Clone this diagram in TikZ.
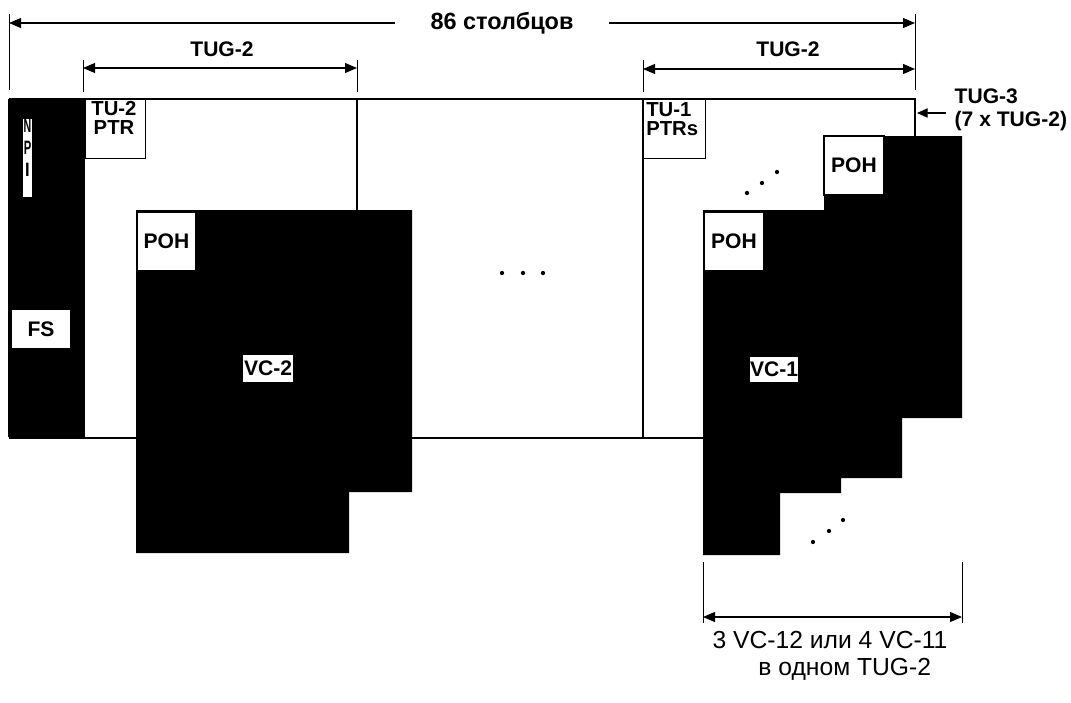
\documentclass[tikz,border=0pt]{standalone}
\usepackage{fontspec}
\setmainfont{Liberation Sans}
\usetikzlibrary{arrows.meta}
\newcommand{\labfont}{\fontsize{15.8}{13}\selectfont\bfseries}
\tikzset{
  wbox/.style={draw, fill=white, line width=0.9pt, inner sep=0pt, font=\labfont},
  frame/.style={line width=1pt},
  tick/.style={line width=0.7pt},
  dimarrow/.style={{Triangle[length=9pt,width=7.5pt]}-{Triangle[length=9pt,width=7.5pt]}, line width=0.8pt},
  onearrow/.style={-{Triangle[length=8pt,width=7pt]}, line width=0.8pt},
  dotmark/.style={fill=black, circle, inner sep=0pt, minimum size=3.2pt},
  npiletter/.style={font=\fontsize{14.5}{14}\selectfont\bfseries, inner sep=0pt, text height=10.4pt, text depth=0pt},
  twoline/.style={font=\fontsize{15.2}{14.2}\selectfont\bfseries, inner sep=0pt},
}
\begin{document}
\begin{tikzpicture}[x=0.75pt,y=-0.75pt]
\useasboundingbox (0,0) rectangle (1071,703);
% coordinates
\coordinate (tl) at (9,99);
\coordinate (tr) at (915,99);
\coordinate (rA) at (915,136);
\coordinate (bl) at (9,438);
\coordinate (bA) at (703,438);
\coordinate (v1t) at (357,99);
\coordinate (v1b) at (357,210);
\coordinate (v2t) at (643,99);
\coordinate (v2b) at (643,438);
% frame lines
\draw[frame] (tl) -- (tr) -- (rA);
\draw[frame] (bl) -- (bA);
\draw[frame] (v1t) -- (v1b);
\draw[frame] (v2t) -- (v2b);
% dimension ticks
\coordinate (t86l) at (9,14);   \coordinate (t86lb) at (9,90);
\coordinate (t86r) at (915,14); \coordinate (t86rb) at (915,90);
\draw[tick] (t86l) -- (t86lb);
\draw[tick] (t86r) -- (t86rb);
\coordinate (tga) at (83,60);  \coordinate (tgab) at (83,92);
\coordinate (tgb) at (357,60); \coordinate (tgbb) at (357,92);
\coordinate (tgc) at (643,60); \coordinate (tgcb) at (643,92);
\draw[tick] (tga) -- (tgab);
\draw[tick] (tgb) -- (tgbb);
\draw[tick] (tgc) -- (tgcb);
\coordinate (bta) at (703,562); \coordinate (btab) at (703,623);
\coordinate (btb) at (962,562); \coordinate (btbb) at (962,623);
\draw[tick] (bta) -- (btab);
\draw[tick] (btb) -- (btbb);
% dimension arrows
\coordinate (a86l) at (9,23); \coordinate (a86r) at (915,23);
\draw[dimarrow] (a86l) -- (a86r);
\node[fill=white, minimum width=161pt, minimum height=20pt, inner sep=0pt, font=\fontsize{17.6}{20}\selectfont\bfseries] (cols) at (502,23) {86 столбцов};
\coordinate (g1l) at (83,68); \coordinate (g1r) at (357,68);
\draw[dimarrow] (g1l) -- (g1r);
\node[font=\fontsize{15.8}{18}\selectfont\bfseries] (tug2a) at (222,49) {TUG-2};
\coordinate (g2l) at (643,69); \coordinate (g2r) at (915,69);
\draw[dimarrow] (g2l) -- (g2r);
\node[font=\fontsize{15.8}{18}\selectfont\bfseries] (tug2b) at (788,49) {TUG-2};
\coordinate (g3l) at (703,617); \coordinate (g3r) at (962,617);
\draw[dimarrow] (g3l) -- (g3r);
\node[align=center, font=\fontsize{18.5}{20}\selectfont] (bottxt) at (830,656) {3 VC-12 или 4 VC-11\\\hspace*{1.2em}в одном TUG-2};
% TUG-3 label
\node[align=left, anchor=west, font=\fontsize{15.8}{17}\selectfont\bfseries] (tug3) at (950,110) {TUG-3\\(7 x TUG-2)};
\coordinate (tug3tail) at (946,113);
\coordinate (tug3tip) at (917,113);
\draw[onearrow] (tug3tail) -- (tug3tip);
% NPI black column
\fill[black] (8,99) rectangle (85,437);
% VC-2 black shape
\fill[black] (136,210) -- (412,210) -- (412,492) -- (349,492) -- (349,553) -- (136,553) -- cycle;
% VC-1 staircase
\fill[black] (824,136) -- (962,136) -- (962,418) -- (902,418) -- (902,478) -- (841,478) -- (841,493) -- (780,493) -- (780,555) -- (703,555) -- (703,210) -- (824,210) -- cycle;
% white boxes
\node[wbox, minimum width=45pt, minimum height=44.25pt, anchor=north west] (tu2) at (85,99) {};
\node[twoline, align=center] (tu2t) at (114,118) {TU-2\\PTR};
\node[wbox, minimum width=46.5pt, minimum height=44.25pt, anchor=north west] (tu1) at (643,99) {};
\node[twoline, align=left, anchor=west] (tu1t) at (646,119) {TU-1\\PTRs};
\node[wbox, minimum width=7pt, minimum height=59pt, draw=none] (npi) at (27.5,158) {};
\node[npiletter] (npiN) at (27.5,126) {\scalebox{0.55}[1]{N}};
\node[npiletter] (npiP) at (27.5,148) {\scalebox{0.58}[1]{P}};
\node[npiletter] (npiI) at (27.5,170) {\scalebox{0.85}[1]{I}};
\node[wbox, draw=none, minimum width=43.5pt, minimum height=28.5pt] (fs) at (41,329) {FS};
\node[wbox, minimum width=44.25pt, minimum height=44.25pt] (poh1) at (166.5,241.5) {POH};
\node[wbox, minimum width=44.25pt, minimum height=44.25pt] (poh2) at (734,241.5) {POH};
\node[wbox, minimum width=45pt, minimum height=44.25pt] (poh3) at (854,165.5) {POH};
\node[wbox, draw=none, minimum width=37.5pt, minimum height=20pt] (vc2) at (268,368.5) {VC-2};
\node[wbox, draw=none, minimum width=36pt, minimum height=19pt] (vc1) at (774,369.5) {VC-1};
% dots
\node[dotmark] (d1) at (502,273) {};
\node[dotmark] (d2) at (523,273) {};
\node[dotmark] (d3) at (543,273) {};
\node[dotmark] (d4) at (747,193) {};
\node[dotmark] (d5) at (762,183) {};
\node[dotmark] (d6) at (777,172) {};
\node[dotmark] (d7) at (813,542) {};
\node[dotmark] (d8) at (829,531) {};
\node[dotmark] (d9) at (843,520) {};
\end{tikzpicture}
\end{document}
